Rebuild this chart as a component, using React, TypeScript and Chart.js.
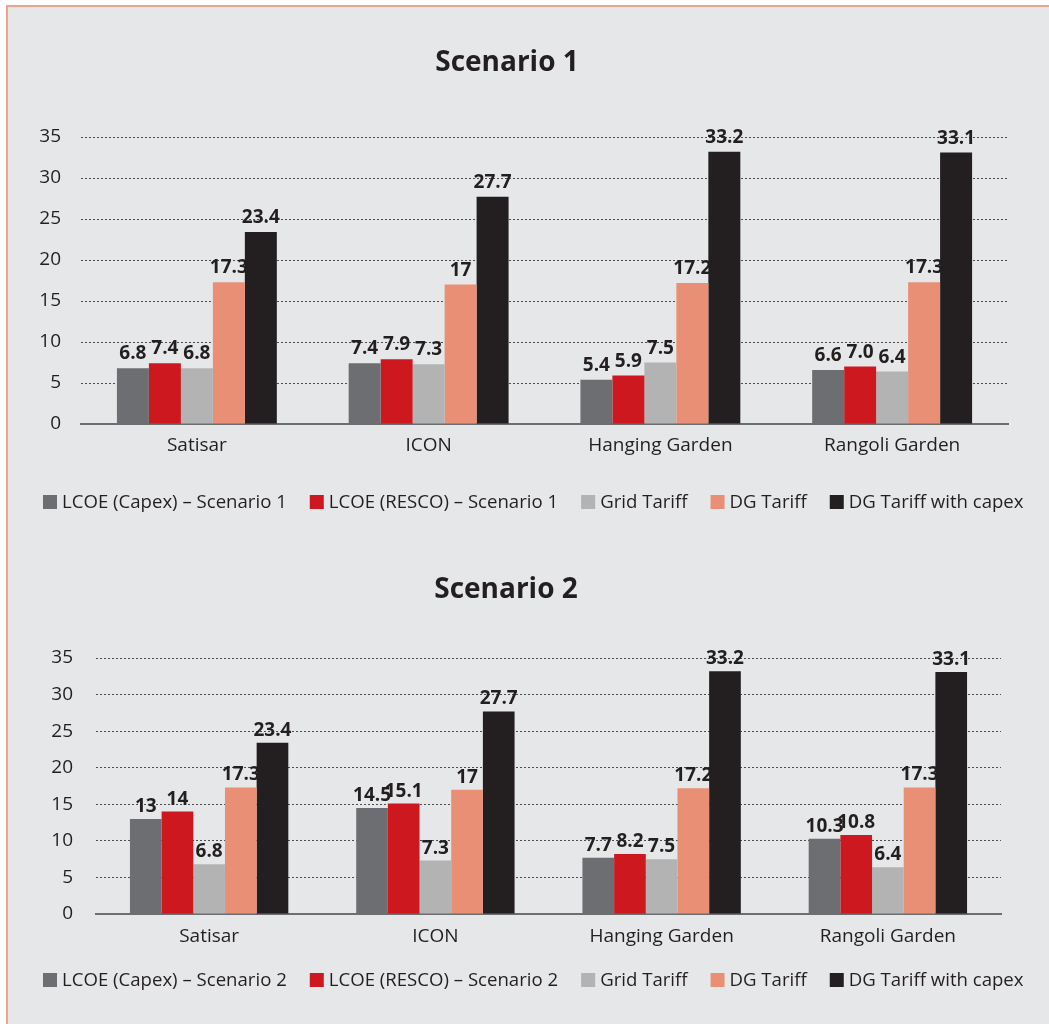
import React, { useEffect, useRef } from "react";
import { Chart, registerables } from "chart.js";

Chart.register(...registerables);

// Sites compared in both scenarios
const sites = ["Satisar", "ICON", "Hanging Garden", "Rangoli Garden"];

// Values in Rs/kWh, kept as the printed figures
const capexS1 = ["6.8", "7.4", "5.4", "6.6"];
const rescoS1 = ["7.4", "7.9", "5.9", "7.0"];
const capexS2 = ["13", "14.5", "7.7", "10.3"];
const rescoS2 = ["14", "15.1", "8.2", "10.8"];
const gridTariff = ["6.8", "7.3", "7.5", "6.4"];
const dgTariff = ["17.3", "17", "17.2", "17.3"];
const dgTariffCapex = ["23.4", "27.7", "33.2", "33.1"];

const yTicks = [0, 5, 10, 15, 20, 25, 30, 35];

const FONT = "'Open Sans', 'Noto Sans', sans-serif";
const INK = "#231f20";
const COLORS = {
  capex: "#6d6e71",
  resco: "#cd1820",
  grid: "#b3b3b3",
  dg: "#e98f76",
  dgCapex: "#231f20",
};

// Prints each bar's value just above it
const valueLabels = {
  id: "valueLabels",
  afterDatasetsDraw(chart: any, _args: any, opts: any) {
    const ctx = chart.ctx;
    ctx.save();
    ctx.font = `bold 19px ${FONT}`;
    ctx.fillStyle = INK;
    ctx.textAlign = "center";
    ctx.textBaseline = "alphabetic";
    chart.data.datasets.forEach((ds: any, i: number) => {
      const meta = chart.getDatasetMeta(i);
      meta.data.forEach((bar: any, j: number) => {
        ctx.fillText(ds.printed[j], bar.x, bar.y - (opts.gap ?? 8));
      });
    });
    ctx.restore();
  },
};

// Single-row legend with square swatches, laid out under the axis
const swatchLegend = {
  id: "swatchLegend",
  afterDraw(chart: any, _args: any, opts: any) {
    const ctx = chart.ctx;
    const box = 14;
    ctx.save();
    ctx.font = `18.6px ${FONT}`;
    ctx.textBaseline = "middle";
    ctx.textAlign = "left";
    let x = opts.x;
    const y = opts.y;
    chart.data.datasets.forEach((ds: any) => {
      ctx.fillStyle = ds.backgroundColor;
      ctx.fillRect(x, y - box / 2, box, box);
      x += box + 5;
      ctx.fillStyle = INK;
      ctx.fillText(ds.label, x, y + 1);
      x += ctx.measureText(ds.label).width + 23;
    });
    ctx.restore();
  },
};

type Geometry = {
  height: number;
  padLeft: number;
  padRight: number;
  yAxisWidth: number;
  yTickPad: number;
  xAxisHeight: number;
  xTickPad: number;
  titleTop: number;
  titleBottom: number;
  groupShare: number;
  labelGap: number;
  legendX: number;
  legendY: number;
};

function buildDatasets(capex: string[], resco: string[], n: number) {
  const series = [
    { label: `LCOE (Capex) – Scenario ${n}`, printed: capex, color: COLORS.capex },
    { label: `LCOE (RESCO) – Scenario ${n}`, printed: resco, color: COLORS.resco },
    { label: "Grid Tariff", printed: gridTariff, color: COLORS.grid },
    { label: "DG Tariff", printed: dgTariff, color: COLORS.dg },
    { label: "DG Tariff with capex", printed: dgTariffCapex, color: COLORS.dgCapex },
  ];
  return series.map((s) => ({
    label: s.label,
    printed: s.printed,
    data: s.printed.map(Number),
    backgroundColor: s.color,
    borderWidth: 0,
    barPercentage: 1,
  }));
}

function ScenarioChart({
  title,
  capex,
  resco,
  n,
  geo,
}: {
  title: string;
  capex: string[];
  resco: string[];
  n: number;
  geo: Geometry;
}) {
  const ref = useRef<HTMLCanvasElement>(null);

  useEffect(() => {
    if (!ref.current) return;
    const datasets = buildDatasets(capex, resco, n).map((d) => ({
      ...d,
      categoryPercentage: geo.groupShare,
    }));
    const chart = new Chart(ref.current, {
      type: "bar",
      data: { labels: sites, datasets: datasets as any },
      plugins: [valueLabels, swatchLegend],
      options: {
        animation: false,
        responsive: false,
        layout: {
          padding: { left: geo.padLeft, right: geo.padRight, top: 0, bottom: 0 },
        },
        plugins: {
          valueLabels: { gap: geo.labelGap },
          swatchLegend: { x: geo.legendX, y: geo.legendY },
          tooltip: { enabled: false },
          legend: { display: false },
          title: {
            display: true,
            text: title,
            color: INK,
            font: { family: FONT, size: 28, weight: "bold" },
            padding: { top: geo.titleTop, bottom: geo.titleBottom },
          },
        } as any,
        scales: {
          x: {
            grid: { display: false, drawTicks: false },
            border: { display: true, color: "#6d6e71", width: 2 },
            ticks: { color: INK, font: { family: FONT, size: 19 }, padding: geo.xTickPad },
            afterFit(scale: any) {
              scale.height = geo.xAxisHeight;
            },
          },
          y: {
            min: 0,
            max: yTicks[yTicks.length - 1],
            afterBuildTicks(scale: any) {
              scale.ticks = yTicks.map((v) => ({ value: v }));
            },
            grid: {
              color: "#4d4d4f",
              lineWidth: 1,
              drawTicks: false,
            },
            border: { display: false, dash: [2, 2] },
            ticks: { color: INK, font: { family: FONT, size: 19 }, padding: geo.yTickPad },
            afterFit(scale: any) {
              scale.width = geo.yAxisWidth;
            },
          },
        },
      } as any,
    });
    return () => chart.destroy();
  }, [title, capex, resco, n, geo]);

  return <canvas ref={ref} width={1049} height={geo.height} style={{ display: "block" }} />;
}

const geoS1: Geometry = {
  height: 535,
  padLeft: 6,
  padRight: 41,
  yAxisWidth: 75,
  yTickPad: 20,
  xAxisHeight: 111,
  xTickPad: 10.5,
  titleTop: 46,
  titleBottom: 57.4,
  groupShare: 0.69,
  labelGap: 9,
  legendX: 43,
  legendY: 502,
};

const geoS2: Geometry = {
  height: 489,
  padLeft: 11,
  padRight: 48,
  yAxisWidth: 85,
  yTickPad: 23,
  xAxisHeight: 110,
  xTickPad: 11.5,
  titleTop: 38.2,
  titleBottom: 51.2,
  groupShare: 0.7,
  labelGap: 7,
  legendX: 43,
  legendY: 445,
};

export default function App() {
  return (
    <div
      style={{
        position: "fixed",
        left: 0,
        top: 0,
        width: 1049,
        height: 1024,
        background: "#ffffff",
        overflow: "hidden",
      }}
    >
      <div
        style={{
          position: "absolute",
          left: 6,
          top: 5,
          width: 1049,
          height: 1030,
          background: "#e6e7e8",
          borderTop: "2px solid #e9a391",
          borderLeft: "2px solid #e9a391",
        }}
      />
      <div style={{ position: "absolute", left: 0, top: 0 }}>
        <ScenarioChart title="Scenario 1" capex={capexS1} resco={rescoS1} n={1} geo={geoS1} />
      </div>
      <div style={{ position: "absolute", left: 0, top: 535 }}>
        <ScenarioChart title="Scenario 2" capex={capexS2} resco={rescoS2} n={2} geo={geoS2} />
      </div>
    </div>
  );
}
